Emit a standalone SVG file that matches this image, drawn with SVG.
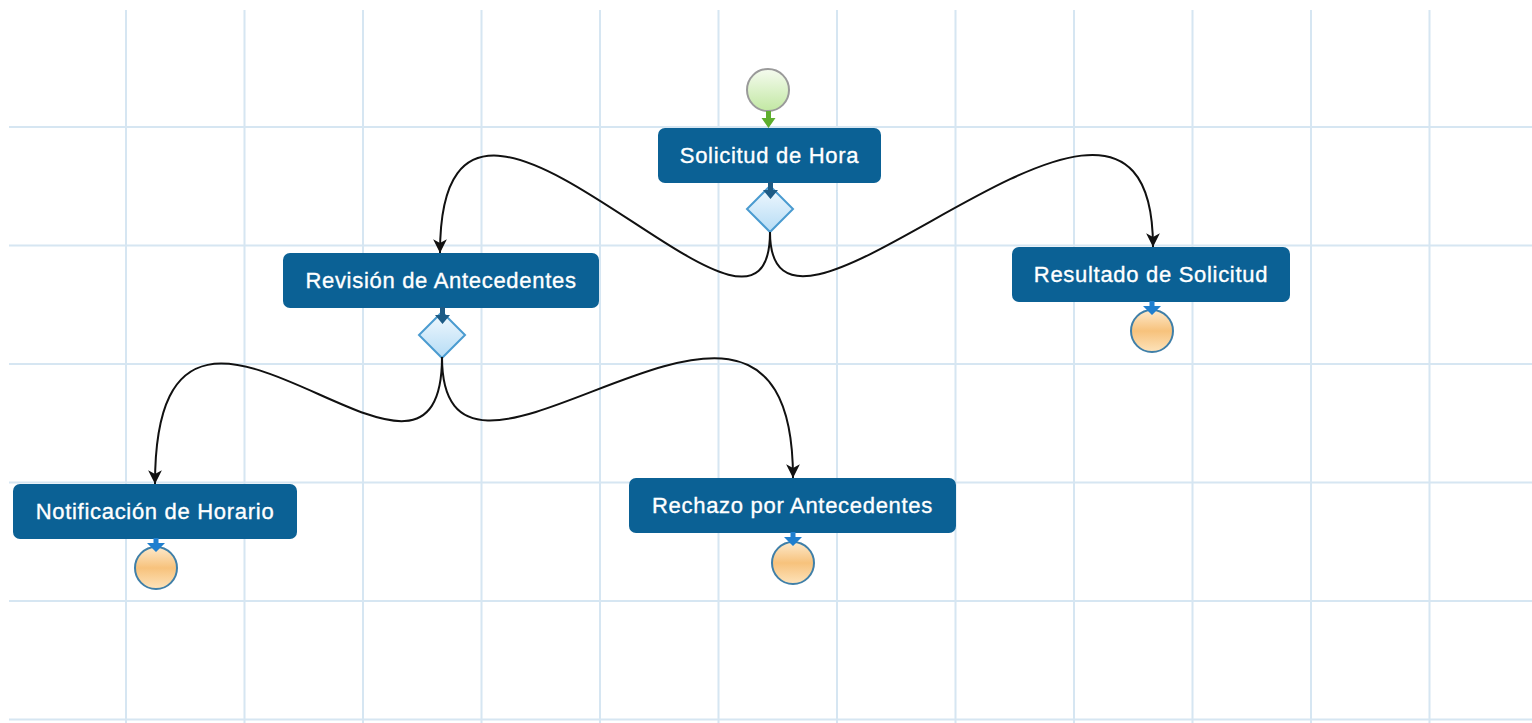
<svg xmlns="http://www.w3.org/2000/svg" width="1532" height="723" viewBox="0 0 1532 723">
<style>
.grid line{stroke:#d6e6f2;stroke-width:2}
.box{fill:#0b6195}
.lbl{font-family:"Liberation Sans",Arial,Helvetica,sans-serif;font-size:22px;fill:#ffffff;stroke:#ffffff;stroke-width:0.35;text-anchor:middle;letter-spacing:0.7px}
.flow{fill:none;stroke:#111111;stroke-width:2}
.gw{fill:url(#gwGrad);stroke:#4a9bd0;stroke-width:2}
.end{fill:url(#endGrad);stroke:#3f7fa8;stroke-width:2}
.start{fill:url(#startGrad);stroke:#9a9a9a;stroke-width:2}
.dk{fill:#1d5b85}
.bl{fill:#1f7fcf}
.gr{fill:#5fae2e}
</style>
<defs>
<linearGradient id="gwGrad" x1="0" y1="0" x2="0" y2="1">
<stop offset="0" stop-color="#f2f9fe"/>
<stop offset="1" stop-color="#b6dcf5"/>
</linearGradient>
<linearGradient id="endGrad" x1="0" y1="0" x2="0" y2="1">
<stop offset="0" stop-color="#fde9cb"/>
<stop offset="0.5" stop-color="#f7c27c"/>
<stop offset="1" stop-color="#fde3bb"/>
</linearGradient>
<linearGradient id="startGrad" x1="0" y1="0" x2="0" y2="1">
<stop offset="0" stop-color="#f5fbef"/>
<stop offset="1" stop-color="#c2e8a3"/>
</linearGradient>
<marker id="arr" markerUnits="userSpaceOnUse" markerWidth="15" markerHeight="15" viewBox="0 0 12 12" refX="11" refY="6" orient="auto">
<path d="M0,0.5 L11,6 L0,11.5 L3,6 Z" fill="#111111"/>
</marker>
</defs>
<rect width="1532" height="723" fill="#ffffff"/>
<g class="grid">
<line x1="126" y1="10" x2="126" y2="723"/>
<line x1="244.5" y1="10" x2="244.5" y2="723"/>
<line x1="363" y1="10" x2="363" y2="723"/>
<line x1="481.5" y1="10" x2="481.5" y2="723"/>
<line x1="600" y1="10" x2="600" y2="723"/>
<line x1="718.5" y1="10" x2="718.5" y2="723"/>
<line x1="837" y1="10" x2="837" y2="723"/>
<line x1="955.5" y1="10" x2="955.5" y2="723"/>
<line x1="1074" y1="10" x2="1074" y2="723"/>
<line x1="1192.5" y1="10" x2="1192.5" y2="723"/>
<line x1="1311" y1="10" x2="1311" y2="723"/>
<line x1="1429.5" y1="10" x2="1429.5" y2="723"/>
<line x1="9" y1="127" x2="1532" y2="127"/>
<line x1="9" y1="245.5" x2="1532" y2="245.5"/>
<line x1="9" y1="364" x2="1532" y2="364"/>
<line x1="9" y1="482.5" x2="1532" y2="482.5"/>
<line x1="9" y1="601" x2="1532" y2="601"/>
<line x1="9" y1="719.5" x2="1532" y2="719.5"/>
</g>
<g id="start">
<circle class="start" cx="768" cy="90" r="21"/>
</g>
<g id="n1">
<rect class="box" x="658" y="128" width="223" height="55" rx="7"/>
<text class="lbl" x="769.5" y="163">Solicitud de Hora</text>
</g>
<g id="gw1">
<path class="gw" d="M770,186 L793,209 L770,232 L747,209 Z"/>
</g>
<g id="n2">
<rect class="box" x="283" y="253" width="316" height="55" rx="7"/>
<text class="lbl" x="441" y="288">Revisión de Antecedentes</text>
</g>
<g id="gw2">
<path class="gw" d="M442,312 L465,335 L442,358 L419,335 Z"/>
</g>
<g id="n3">
<rect class="box" x="1012" y="247" width="278" height="55" rx="7"/>
<text class="lbl" x="1151" y="282">Resultado de Solicitud</text>
</g>
<g id="end3">
<circle class="end" cx="1152" cy="331" r="21"/>
</g>
<g id="n4">
<rect class="box" x="13" y="484" width="284" height="55" rx="7"/>
<text class="lbl" x="155" y="519">Notificación de Horario</text>
</g>
<g id="end4">
<circle class="end" cx="156" cy="568" r="21"/>
</g>
<g id="n5">
<rect class="box" x="629" y="478" width="327" height="55" rx="7"/>
<text class="lbl" x="792.5" y="513">Rechazo por Antecedentes</text>
</g>
<g id="end5">
<circle class="end" cx="793" cy="563" r="21"/>
</g>
<g id="connectors">
<path class="flow" d="M770,232 C770,412 440,-30 440,253" marker-end="url(#arr)"/>
<path class="flow" d="M770,232 C770,410 1153,-25 1153,247" marker-end="url(#arr)"/>
<path class="flow" d="M442,357 C442,561 155,186 155,484" marker-end="url(#arr)"/>
<path class="flow" d="M442,357 C442,562 793,178 793,478" marker-end="url(#arr)"/>
<path class="gr" d="M766,111 h5 v7 h4.5 l-7,10 l-7,-10 h4.5 z"/>
<path class="dk" d="M768,182 h5 v8 h5 l-7.5,9 l-7.5,-9 h5 z"/>
<path class="dk" d="M440,307 h5 v8 h5 l-7.5,9 l-7.5,-9 h5 z"/>
<path class="bl" d="M1149.5,301 h5 v5 h6.5 l-9,9 l-9,-9 h6.5 z"/>
<path class="bl" d="M153.5,538 h5 v5 h6.5 l-9,9 l-9,-9 h6.5 z"/>
<path class="bl" d="M790.5,532 h5 v5 h6.5 l-9,9 l-9,-9 h6.5 z"/>
</g>
</svg>
